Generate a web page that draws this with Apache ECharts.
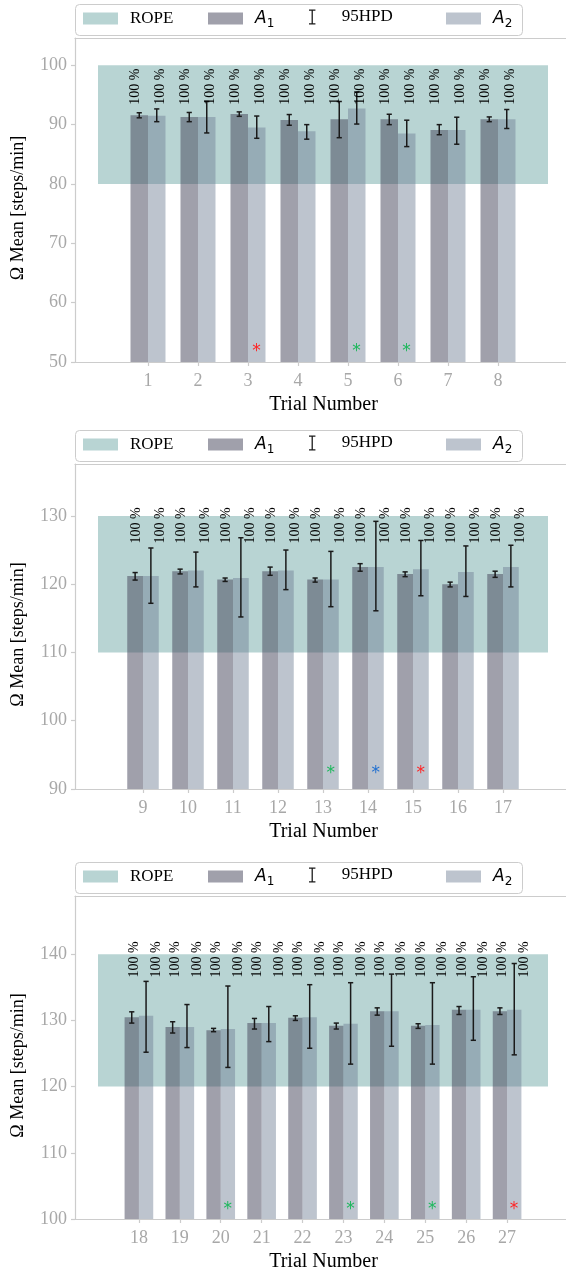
<!DOCTYPE html>
<html>
<head>
<meta charset="utf-8">
<script src="https://cdn.jsdelivr.net/npm/echarts@6/dist/echarts.min.js"></script>
<style>
  html, body { margin: 0; padding: 0; background: #ffffff; }
  #chart { width: 566px; height: 1273px; }
</style>
</head>
<body>
<div id="chart"></div>
<script>
// ---------- data: trials 1-8 ----------
const trialsP1 = [1, 2, 3, 4, 5, 6, 7, 8];
const ropeP1 = [80, 100];
const meanA1P1 = [91.6, 91.3, 91.8, 90.8, 90.9, 90.9, 89.1, 90.9];
const loA1P1   = [91.15, 90.5, 91.4, 89.9, 87.8, 90.0, 88.3, 90.5];
const hiA1P1   = [92.0, 92.05, 92.15, 91.7, 93.9, 91.75, 90.0, 91.3];
const meanA2P1 = [91.5, 91.3, 89.5, 88.9, 92.7, 88.5, 89.1, 90.9];
const loA2P1   = [90.5, 88.6, 87.7, 87.55, 90.1, 86.3, 86.7, 89.35];
const hiA2P1   = [92.65, 93.9, 91.45, 90.0, 95.5, 90.75, 91.25, 92.55];
const pctA1P1  = [100, 100, 100, 100, 100, 100, 100, 100];
const pctA2P1  = [100, 100, 100, 100, 100, 100, 100, 100];
const starsP1  = [[3, 'red'], [5, 'green'], [6, 'green']];

// ---------- data: trials 9-17 ----------
const trialsP2 = [9, 10, 11, 12, 13, 14, 15, 16, 17];
const ropeP2 = [110, 130];
const meanA1P2 = [121.2, 121.9, 120.7, 121.9, 120.7, 122.5, 121.5, 120.0, 121.5];
const loA1P2   = [120.6, 121.5, 120.4, 121.3, 120.3, 121.9, 121.1, 119.6, 121.0];
const hiA1P2   = [121.7, 122.2, 120.9, 122.5, 120.9, 123.0, 121.8, 120.3, 121.9];
const meanA2P2 = [121.2, 122.0, 120.9, 122.0, 120.7, 122.5, 122.2, 121.8, 122.5];
const loA2P2   = [117.2, 119.6, 115.2, 119.2, 116.7, 116.1, 118.3, 118.2, 119.6];
const hiA2P2   = [125.3, 124.7, 126.8, 125.0, 124.8, 129.2, 126.4, 125.6, 125.7];
const pctA1P2  = [100, 100, 100, 100, 100, 100, 100, 100, 100];
const pctA2P2  = [100, 100, 100, 100, 100, 100, 100, 100, 100];
const starsP2  = [[13, 'green'], [14, 'blue'], [15, 'red']];

// ---------- data: trials 18-27 ----------
const trialsP3 = [18, 19, 20, 21, 22, 23, 24, 25, 26, 27];
const ropeP3 = [120, 140];
const meanA1P3 = [130.5, 129.0, 128.5, 129.6, 130.4, 129.2, 131.4, 129.2, 131.6, 131.4];
const loA1P3   = [129.6, 128.1, 128.3, 128.7, 130.0, 128.7, 130.8, 128.8, 130.9, 130.9];
const hiA1P3   = [131.3, 129.8, 128.8, 130.3, 130.7, 129.6, 131.9, 129.5, 132.1, 131.9];
const meanA2P3 = [130.7, 129.0, 128.7, 129.6, 130.5, 129.5, 131.4, 129.3, 131.6, 131.6];
const loA2P3   = [125.2, 125.9, 122.9, 126.8, 125.8, 123.4, 126.1, 123.4, 127.0, 124.8];
const hiA2P3   = [135.9, 132.4, 135.2, 132.1, 135.4, 135.7, 137.0, 135.7, 136.6, 138.6];
const pctA1P3  = [100, 100, 100, 100, 100, 100, 100, 100, 100, 100];
const pctA2P3  = [100, 100, 100, 100, 100, 100, 100, 100, 100, 100];
const starsP3  = [[20, 'green'], [23, 'green'], [25, 'green'], [27, 'red']];

// ---------- styling ----------
const SERIF = '"Liberation Serif", "DejaVu Serif", serif';
const SANS = '"DejaVu Sans", sans-serif';
const COL = {
  rope: '#b8d4d3',
  a1: 'rgba(65,65,87,0.5)',
  a2: 'rgba(109,124,146,0.45)',
  err: '#1a1a1a',
  spine: '#cccccc',
  tickText: '#a8a8a8'
};
const STAR_COL = { red: '#ff2424', green: '#1db85c', blue: '#1f6fd1' };
const BAR_W = 0.35;
const CHART_W = 566, GRID_LEFT = 75, ROPE_X0 = 98, ROPE_X1 = 548;

// panel layout (pixel frame, y range, label placement)
const panels = [
  { trials: trialsP1, rope: ropeP1, m1: meanA1P1, l1: loA1P1, h1: hiA1P1, m2: meanA2P1, l2: loA2P1, h2: hiA2P1,
    p1: pctA1P1, p2: pctA2P1, stars: starsP1,
    top: 38, height: 324, ymin: 50, ymax: 104.6, ticks: [50, 60, 70, 80, 90, 100],
    pctY: 96.4, pctDx: [-0.25, 0.25], starY: 52.5 },
  { trials: trialsP2, rope: ropeP2, m1: meanA1P2, l1: loA1P2, h1: hiA1P2, m2: meanA2P2, l2: loA2P2, h2: hiA2P2,
    p1: pctA1P2, p2: pctA2P2, stars: starsP2,
    top: 464, height: 325, ymin: 90, ymax: 137.6, ticks: [90, 100, 110, 120, 130],
    pctY: 128.6, pctDx: [-0.14, 0.38], starY: 92.8 },
  { trials: trialsP3, rope: ropeP3, m1: meanA1P3, l1: loA1P3, h1: hiA1P3, m2: meanA2P3, l2: loA2P3, h2: hiA2P3,
    p1: pctA1P3, p2: pctA2P3, stars: starsP3,
    top: 896, height: 324, ymin: 100, ymax: 148.8, ticks: [100, 110, 120, 130, 140],
    pctY: 139.2, pctDx: [-0.105, 0.425], starY: 102.0 }
];

const grids = [], xAxes = [], topAxes = [], yAxes = [], series = [], legends = [], graphics = [];

const legendItems = [
  { name: 'ROPE', left: 83, icon: 'rect', h: 12 },
  { name: 'A1', left: 208, icon: 'rect', h: 12 },
  { name: '95HPD', left: 309, icon: 'path://M0,0H6V1.2H0Z M2.4,0H3.6V14H2.4Z M0,12.8H6V14H0Z', h: 15 },
  { name: 'A2', left: 446, icon: 'rect', h: 12 }
];

panels.forEach((p, k) => {
  const n = p.trials.length;
  const step = (ROPE_X1 - ROPE_X0) / (n + 1);
  const xmin = (GRID_LEFT - ROPE_X0) / step;
  const xmax = (CHART_W - ROPE_X0) / step;
  grids.push({ left: GRID_LEFT, right: 0, top: p.top, height: p.height });
  const idx = p.trials.map((_, i) => i + 1);
  const spineLine = { show: true, onZero: false, lineStyle: { color: COL.spine, width: 1.2 } };
  xAxes.push({
    gridIndex: k, type: 'value', position: 'bottom', min: xmin, max: xmax,
    axisLine: spineLine,
    axisTick: { show: true, customValues: idx, length: 4, lineStyle: { color: COL.spine, width: 1.2 } },
    axisLabel: {
      customValues: idx, margin: 10,
      formatter: v => String(p.trials[Math.round(v) - 1]),
      fontFamily: SERIF, fontSize: 18, color: COL.tickText
    },
    splitLine: { show: false },
    name: 'Trial Number', nameLocation: 'middle', nameGap: 33,
    nameTextStyle: { fontFamily: SERIF, fontSize: 20, color: '#000', padding: [0, 0, 0, 6] }
  });
  // upper frame line of the panel
  topAxes.push({
    gridIndex: k, type: 'value', position: 'top', min: xmin, max: xmax,
    axisLine: spineLine, axisTick: { show: false }, axisLabel: { show: false }, splitLine: { show: false }
  });
  yAxes.push({
    gridIndex: k, type: 'value', min: p.ymin, max: p.ymax,
    axisLine: spineLine,
    axisTick: { show: true, customValues: p.ticks, length: 4, lineStyle: { color: COL.spine, width: 1.2 } },
    axisLabel: { customValues: p.ticks, margin: 8, fontFamily: SERIF, fontSize: 18, color: COL.tickText },
    splitLine: { show: false },
    name: 'Ω Mean [steps/min]', nameLocation: 'middle', nameGap: 48,
    nameTextStyle: { fontFamily: SERIF, fontSize: 18, color: '#000', padding: [0, 16, 0, 0] }
  });

  // region of practical equivalence
  series.push({
    type: 'custom', name: 'ROPE', xAxisIndex: k, yAxisIndex: k,
    itemStyle: { color: COL.rope }, z: 1,
    data: [[0, p.rope[0], n + 1, p.rope[1]]],
    renderItem: (params, api) => {
      const a = api.coord([api.value(0), api.value(3)]);
      const b = api.coord([api.value(2), api.value(1)]);
      return { type: 'rect', shape: { x: a[0], y: a[1], width: b[0] - a[0], height: b[1] - a[1] },
               style: { fill: COL.rope } };
    }
  });

  // bars for both conditions
  [[p.m1, 'A1', COL.a1, -BAR_W], [p.m2, 'A2', COL.a2, 0]].forEach(([vals, name, color, off]) => {
    series.push({
      type: 'custom', name, xAxisIndex: k, yAxisIndex: k, z: 2,
      itemStyle: { color },
      data: vals.map((v, i) => [i + 1, v]),
      renderItem: (params, api) => {
        const x = api.value(0);
        const a = api.coord([x + off, api.value(1)]);
        const b = api.coord([x + off + BAR_W, p.ymin]);
        return { type: 'rect', shape: { x: a[0], y: a[1], width: b[0] - a[0], height: b[1] - a[1] },
                 style: { fill: color } };
      }
    });
  });

  // 95% HPD intervals
  const errData = [];
  p.l1.forEach((lo, i) => errData.push([i + 1 - BAR_W / 2, lo, p.h1[i]]));
  p.l2.forEach((lo, i) => errData.push([i + 1 + BAR_W / 2, lo, p.h2[i]]));
  series.push({
    type: 'custom', name: '95HPD', xAxisIndex: k, yAxisIndex: k, z: 3,
    itemStyle: { color: COL.err },
    data: errData,
    renderItem: (params, api) => {
      const lo = api.coord([api.value(0), api.value(1)]);
      const hi = api.coord([api.value(0), api.value(2)]);
      const cap = 2.6;
      const st = { stroke: COL.err, lineWidth: 1.5 };
      return { type: 'group', children: [
        { type: 'line', shape: { x1: lo[0], y1: lo[1], x2: hi[0], y2: hi[1] }, style: st },
        { type: 'line', shape: { x1: lo[0] - cap, y1: lo[1], x2: lo[0] + cap, y2: lo[1] }, style: st },
        { type: 'line', shape: { x1: hi[0] - cap, y1: hi[1], x2: hi[0] + cap, y2: hi[1] }, style: st }
      ] };
    }
  });

  // percentage labels
  const pctData = [];
  p.p1.forEach((v, i) => pctData.push([i + 1 + p.pctDx[0], p.pctY, v]));
  p.p2.forEach((v, i) => pctData.push([i + 1 + p.pctDx[1], p.pctY, v]));
  series.push({
    type: 'custom', name: 'pct', xAxisIndex: k, yAxisIndex: k, z: 4, clip: false,
    data: pctData,
    renderItem: (params, api) => {
      const c = api.coord([api.value(0), api.value(1)]);
      return { type: 'text', x: c[0], y: c[1], rotation: Math.PI / 2,
               style: { text: api.value(2) + ' %', font: '14px ' + SERIF, fill: '#000',
                        align: 'center', verticalAlign: 'middle' } };
    }
  });

  // significance markers
  series.push({
    type: 'custom', name: 'stars', xAxisIndex: k, yAxisIndex: k, z: 4,
    data: p.stars.map(s => [p.trials.indexOf(s[0]) + 1 + 0.17, p.starY, s[1]]),
    renderItem: (params, api) => {
      const c = api.coord([api.value(0), api.value(1)]);
      const colName = p.stars[params.dataIndex][1];
      return { type: 'text', x: c[0], y: c[1] + 4,
               style: { text: '*', font: '17px ' + SANS, fill: STAR_COL[colName],
                        align: 'center', verticalAlign: 'middle' } };
    }
  });

  // legend frame and entries
  graphics.push({
    type: 'rect', z: 0,
    shape: { x: 75.5, y: p.top - 33.5, width: 447, height: 31, r: 4 },
    style: { fill: '#ffffff', stroke: '#cccccc', lineWidth: 1 }
  });
  legendItems.forEach(it => {
    legends.push({
      left: it.left, top: p.top - 28 - (it.h - 12) / 2, padding: 0, itemGap: 0, z: 5,
      itemWidth: 35, itemHeight: it.h, selectedMode: false,
      itemStyle: { borderWidth: 0 },
      data: [{ name: it.name, icon: it.icon }],
      formatter: name => name === 'A1' ? '{i|A}{s|1}' : name === 'A2' ? '{i|A}{s|2}' : name,
      textStyle: {
        fontFamily: SERIF, fontSize: 17, color: '#000', padding: [0, 0, 0, 7],
        rich: {
          i: { fontFamily: SANS, fontStyle: 'italic', fontSize: 17, color: '#000',
               lineHeight: 22, verticalAlign: 'middle' },
          s: { fontFamily: SANS, fontSize: 12, color: '#000',
               lineHeight: 22, verticalAlign: 'bottom' }
        }
      }
    });
  });
});

const chart = echarts.init(document.getElementById('chart'), null, { renderer: 'canvas' });
chart.setOption({
  animation: false,
  backgroundColor: '#ffffff',
  grid: grids,
  xAxis: xAxes.concat(topAxes),
  yAxis: yAxes,
  legend: legends,
  graphic: graphics,
  series
});
</script>
</body>
</html>
